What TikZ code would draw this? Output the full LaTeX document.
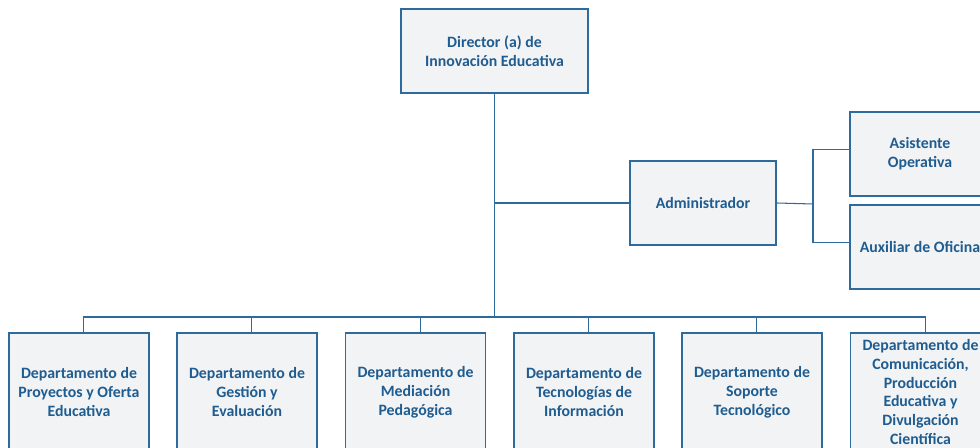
\documentclass[tikz,border=0pt]{standalone}
\usepackage{fontspec}
\setmainfont{Carlito}
\definecolor{orgtext}{HTML}{1F5C8F}
\definecolor{orgline}{HTML}{2E6A9C}
\definecolor{orgfill}{HTML}{F2F3F5}
\tikzset{
    unit/.style={draw=orgline,line width=1.1pt,fill=orgfill,text=orgtext,
        font=\fontsize{9}{10.8}\selectfont\bfseries,align=center,
        inner sep=2pt,minimum width=2.8cm,minimum height=1.68cm},
    dept/.style={unit,minimum height=2.36cm},
    link/.style={draw=orgline,line width=0.6pt}
}
\begin{document}
\begin{tikzpicture}[x=0.02cm,y=-0.02cm]
        \clip (0,0) rectangle (980,448);
        \node[unit,minimum width=3.74cm] (dir) at (494.5,51) {Director (a) de\\Innovación Educativa};
        \node[unit,minimum width=2.92cm] (adm) at (703,203) {Administrador};
        \node[unit] (asi) at (920,154) {Asistente\\Operativa};
        \node[unit] (aux) at (920,247) {Auxiliar de Oficina};
        \node[dept] (d1) at (79,392) {Departamento de\\Proyectos y Oferta\\Educativa};
        \node[dept] (d2) at (247,392) {Departamento de\\Gestión y\\Evaluación};
        \node[dept] (d3) at (415.5,392) {Departamento de\\Mediación\\Pedagógica};
        \node[dept] (d4) at (584,392) {Departamento de\\Tecnologías de\\Información};
        \node[dept] (d5) at (752,392) {Departamento de\\Soporte\\Tecnológico};
        \node[dept] (d6) at (920.5,392) {Departamento de\\Comunicación,\\Producción\\Educativa y\\Divulgación\\Científica};
        \coordinate (bus) at (494.5,317);
        \coordinate (fork) at (813,204);
        \draw[link] (dir) -- (dir |- bus);
        \draw[link] (dir |- adm) -- (adm.west);
        \draw[link] (adm.east) -- (fork);
        \draw[link] ([yshift=2.6pt]asi.west) -| (fork) |- ([yshift=2.4pt]aux.west);
        \draw[link] ([xshift=2.8pt]d1.north) |- (bus) -| ([xshift=2.8pt]d6.north);
        \foreach \d in {d2,d3,d4,d5}
            \draw[link] ([xshift=2.8pt]\d.north) -- ([xshift=2.8pt]\d.north |- bus);
    \end{tikzpicture}
\end{document}
